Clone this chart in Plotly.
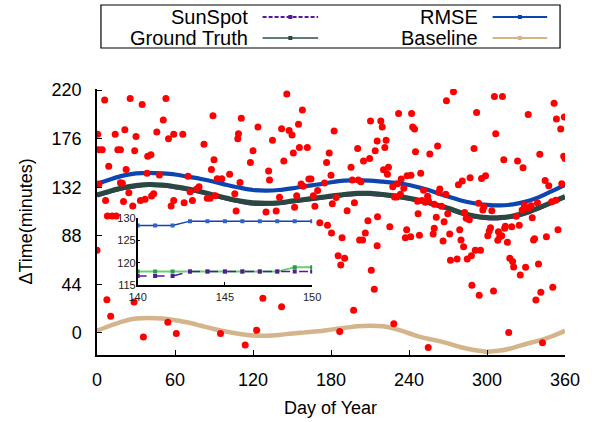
import plotly.graph_objects as go

# ---------------- data ----------------
curve_days = [0, 10, 20, 30, 40, 50, 60, 70, 80, 90, 100, 110, 120, 130, 140, 150, 160, 170, 180,
              190, 200, 210, 220, 230, 240, 250, 260, 270, 280, 290, 300, 310, 320, 330, 340, 350, 360]
rmse = [135, 139, 142.5, 144.5, 145, 144.5, 143.5, 141.5, 139.5, 137, 134, 131.5, 129.5, 129, 129.5,
        131, 133, 134.5, 136.5, 138, 138.5, 138, 137, 136, 134, 131, 127.5, 123.5, 120, 117.5, 116,
        115.5, 116.5, 119, 123, 128.5, 134]
ground_truth = [125, 128.5, 131.5, 133.5, 134.5, 134, 132.5, 130.5, 128, 125, 122, 119.5, 118, 117.5,
                118, 119.5, 121, 122.5, 124, 125.5, 126.5, 126.5, 125.5, 124, 122, 119.5, 116.5, 113,
                109, 106, 104.5, 104.5, 106, 109, 113.5, 118.5, 123.5]
sunspot = [124, 127.5, 130.5, 132.5, 133.5, 133, 131.5, 129.5, 127, 124, 121, 118.5, 116.5, 116.5,
           117, 118.5, 120, 121.5, 123, 124.5, 125.5, 125.5, 124.5, 123, 121, 118.5, 115.5, 112,
           108, 105, 103.5, 103.5, 105, 108, 112.5, 117.5, 122.5]
baseline = [2, 6.5, 10.5, 13, 13.5, 13, 11.5, 9.5, 6.5, 3.5, 1, -1, -2.3, -2.5, -1.8, -0.5, 0.5, 1.5,
            3, 4.5, 6, 6.5, 6, 3.5, -0.3, -4, -6.5, -9.5, -13, -15.5, -17, -16, -13.5, -10, -7, -3, 2]

obs_days = [5.9, 25.5, 34.7, 53, 51, 0.5, 14, 21.4, 30, 46, 59, 66, 55, 1.5, 4, 16, 18, 29, 39, 41.5,
            9, 22.4, 38.5, 48, 1.5, 18, 19.5, 24.5, 6.6, 20.4, 27.5, 33.4, 37, 42, 43.6, 57, 59, 67,
            8, 11.7, 14.8, 0, 58.6, 7.6, 28.5, 10.5, 54.5, 61, 35.7, 70,
            89.2, 111, 123.8, 142, 108.8, 108.3, 82.3, 135, 120, 90, 118, 88, 132, 102, 92.5, 96,
            132.7, 110, 78.5, 76.7, 71.6, 73.4, 84.8, 87, 91, 106, 140.4, 107, 130, 137.8, 127.6,
            142, 95, 122.8, 114, 143.7,
            146, 158, 155, 147.8, 150, 182.4, 210.4, 215.5, 155.7, 161.8, 151, 178.6, 176.6, 200.5,
            214, 205, 209.7, 195.4, 180, 163, 164.6, 157, 158.7, 175, 196.4, 201, 203, 169.7, 153.6,
            166.4, 184, 152, 167.6, 181, 198, 192.4, 171.4, 177.3, 180.4, 188.5, 208.4, 215.8, 206.4,
            202, 204.3, 215.5, 185.5, 190.5, 187.5, 211, 213.3, 197.4, 186.7,
            274.2, 268.8, 232, 242, 218.3, 219.4, 242.8, 244.3, 222.4, 221.4, 262, 245, 256, 224.2,
            220.4, 223.4, 238.5, 241.5, 234, 249, 287, 281, 278, 227.5, 231, 236, 233.4, 228.8, 230.6,
            251.2, 254.3, 250, 246.6, 252.5, 255, 259.4, 265, 263.7, 263, 268.3, 269.8, 282.8, 284,
            286.4, 225.2, 247, 261, 267, 238.2, 259.4, 258.6, 237.2, 241.3, 248, 271.3, 279, 280,
            266.2, 282, 288, 284.8, 277, 271.9, 288.4, 228.3, 254.8,
            305.7, 311.9, 351.6, 292, 331.7, 353.4, 359.5, 356.7, 306.7, 290, 340.6, 312.9, 323.5,
            327.7, 359, 360, 295.8, 298.9, 344.7, 347.5, 357.5, 293.5, 297.6, 296.8, 303.7, 328.7,
            331.5, 334, 327, 338.8, 349.8, 352.9, 322.5, 334.8, 302.7, 301.7, 300.6, 308.8, 308.3,
            309.8, 311.3, 314.1, 313.6, 319, 324.8, 315.7, 336.6, 335.8, 345.7, 354.6, 291, 295,
            317.5, 319.7, 320.5, 329.7, 325.6, 339.6, 294, 305, 341.4, 337.6, 350.6, 316.7, 342.7]
obs_vals = [211, 212.5, 207, 212.5, 193, 180, 180, 184, 178, 182, 180, 180, 176, 166, 166, 166, 166,
            165, 160, 161.5, 151, 148, 144.6, 143, 135, 136, 135.5, 127, 120, 119, 115, 120, 121, 124,
            126, 115, 120, 118, 106, 106, 106, 75, 75, 30, 28, 15, 9.7, -0.6, -3.6, 142,
            196.8, 194.6, 186.5, 185, 180.5, 176, 171, 174.5, 165, 157, 154.5, 148, 146.7, 143.7,
            139.7, 139.7, 138.5, 136.4, 132.5, 130.4, 128, 120, 122, 122, 124.3, 126, 123, 110.5,
            109.5, 110.5, 31.4, 23.8, -0.6, 2.4, -10.9, 155.7,
            216.4, 202, 189, 183.5, 179.3, 183, 192, 174, 168, 168, 163, 163, 154.5, 167, 165, 155.7,
            158, 150, 142.8, 139.4, 139.4, 135, 132.8, 135.8, 138.5, 138.5, 137, 129, 124.3, 124.3,
            122.8, 113.8, 114.7, 117, 118, 110.7, 99.9, 97.5, 90.5, 86.3, 101.7, 105.3, 90.5, 84.2,
            84.2, 79, 70, 67.6, 61.6, 56.8, 39.5, 20.5, 1.2,
            218.5, 210.3, 198.9, 198.9, 192, 186.5, 186.5, 184.7, 174.5, 168, 169.3, 164.2, 162, 150,
            147.9, 143.7, 142.5, 142.8, 139.4, 144.6, 140.6, 137.6, 134.3, 132.5, 135.2, 131, 125.6,
            123.1, 123.1, 129.2, 123.8, 120, 119.2, 118.3, 119.5, 116.5, 114.7, 130.4, 127.4, 125.6,
            108, 109, 103.8, 102.6, 96.2, 108, 104.8, 100.8, 93.5, 94.8, 89.6, 86.3, 87.2, 88.4, 89.6,
            93.5, 84.2, 83.3, 78.1, 70, 67, 67, 65.8, 43.2, 8.4, -13.3,
            214.3, 214.3, 208, 199.8, 198, 193.8, 195.6, 184.7, 180.5, 167.2, 161.8, 156.9, 155.7,
            149.7, 160, 158, 140, 142.4, 138.2, 133.4, 135.2, 117.4, 114.4, 111.4, 110.7, 115.9,
            112.9, 115.3, 111.4, 118, 118.9, 120.1, 105.7, 104.4, 95.3, 92.3, 88.1, 91.7, 83.9,
            87.2, 88.1, 96.6, 94.8, 96.2, 97.5, 82.1, 85.4, 84.2, 87.2, 93.5, 74.9, 74.9, 67.6,
            64.6, 59.8, 59.5, 52.5, 62.5, 34.1, 38, 36.8, 29.9, 41.4, 0.3, -9]

inset_days = [140, 141, 142, 143, 144, 145, 146, 147, 148, 149, 150]
inset_rmse = [128.3, 128.3, 128.3, 129.3, 129.3, 129.3, 129.3, 129.3, 129.3, 129.3, 129.3]
inset_truth = [118, 118, 118, 118, 118, 118, 118, 118, 118, 119, 119]
inset_sunspot = [117, 117, 117, 118, 118, 118, 118, 118, 118, 118, 118]

x_ticks = [0, 60, 120, 180, 240, 300, 360]
y_ticks = [0, 44, 88, 132, 176, 220]
inset_x_ticks = [140, 145, 150]
inset_y_ticks = [115, 120, 125, 130]

legend_names = ["SunSpot", "Ground Truth", "RMSE", "Baseline"]

# ---------------- styling ----------------
C_RMSE = "#0a45b0"
C_GT = "#2a4842"
C_GT_LEG = "#5d7d75"
C_BASE = "#d4b48a"
C_SUN = "#55199a"
C_RED = "#ff0000"
C_INS_GREEN = "#6ccc78"
C_INS_GREEN_M = "#20a040"
FONT = "Liberation Sans, Arial, Helvetica, sans-serif"

W, H = 592, 422
L, R, T, B = 97, 23, 89, 67
PW, PH = W - L - R, H - T - B


def px(xp):
    return (xp - L) / PW


def py(yp):
    return (H - B - yp) / PH


fig = go.Figure()

fig.add_trace(go.Scatter(x=curve_days, y=baseline, mode="lines", line=dict(color=C_BASE, width=4.5, shape="spline"),
                         showlegend=False, hoverinfo="skip"))
fig.add_trace(go.Scatter(x=curve_days, y=rmse, mode="lines", line=dict(color=C_RMSE, width=4.2, shape="spline"),
                         showlegend=False))
fig.add_trace(go.Scatter(x=curve_days, y=sunspot, mode="lines", line=dict(color=C_SUN, width=3, shape="spline"),
                         showlegend=False))
fig.add_trace(go.Scatter(x=curve_days, y=ground_truth, mode="lines", line=dict(color=C_GT, width=5, shape="spline"),
                         showlegend=False))
fig.add_trace(go.Scatter(x=obs_days, y=obs_vals, mode="markers", marker=dict(color=C_RED, size=7, line=dict(width=0)),
                         showlegend=False))

# inset
fig.add_trace(go.Scatter(x=inset_days, y=inset_rmse, xaxis="x2", yaxis="y2", mode="lines+markers",
                         line=dict(color=C_RMSE, width=1.5), marker=dict(symbol="square", size=4, color="#3060c8"),
                         showlegend=False))
fig.add_trace(go.Scatter(x=inset_days, y=inset_truth, xaxis="x2", yaxis="y2", mode="lines+markers",
                         line=dict(color=C_INS_GREEN, width=2), marker=dict(symbol="square", size=4, color=C_INS_GREEN_M),
                         showlegend=False))
fig.add_trace(go.Scatter(x=inset_days, y=inset_sunspot, xaxis="x2", yaxis="y2", mode="lines+markers",
                         line=dict(color=C_SUN, width=1.5, dash="dash"), marker=dict(symbol="square", size=4, color=C_SUN),
                         showlegend=False))

axis_common = dict(showline=True, linecolor="black", linewidth=1.5, ticks="inside", ticklen=5,
                   tickcolor="black", tickwidth=1, showgrid=False, zeroline=False,
                   tickfont=dict(family=FONT, size=18, color="black"))

fig.update_layout(
    width=W, height=H, margin=dict(l=L, r=R, t=T, b=B),
    paper_bgcolor="white", plot_bgcolor="white",
    showlegend=False,
    xaxis=dict(range=[0, 360], tickvals=x_ticks, ticklabelstandoff=8, **axis_common),
    yaxis=dict(range=[-20, 221], tickvals=y_ticks, ticklabelstandoff=10, **axis_common),
    xaxis2=dict(domain=[px(138), px(314)], anchor="y2", range=[140, 150], tickvals=inset_x_ticks,
                showline=True, linecolor="black", linewidth=1.5, ticks="inside", ticklen=3, tickcolor="black",
                showgrid=False, zeroline=False, tickfont=dict(family=FONT, size=11, color="#222"),
                ticklabelstandoff=1),
    yaxis2=dict(domain=[py(285), py(218)], anchor="x2", range=[115, 130], tickvals=inset_y_ticks,
                showline=True, linecolor="black", linewidth=1.5, ticks="inside", ticklen=3, tickcolor="black",
                showgrid=False, zeroline=False, tickfont=dict(family=FONT, size=11, color="#222"),
                ticklabelstandoff=-2),
)

annotations = [
    dict(x=px(332), y=py(408), xref="paper", yref="paper", text="Day of Year", showarrow=False,
         font=dict(family=FONT, size=18, color="black"), xanchor="center", yanchor="middle"),
    dict(x=px(25), y=py(222), xref="paper", yref="paper", text="ΔTime(minutes)", showarrow=False,
         textangle=-90, font=dict(family=FONT, size=18, color="black"), xanchor="center", yanchor="middle"),
]

shapes = [dict(type="rect", xref="paper", yref="paper", x0=px(101), x1=px(564), y0=py(48), y1=py(5),
               line=dict(color="black", width=1.2), fillcolor="white", layer="above")]

legend_pos = [(251, 17, 264, 320, C_SUN, "dash", C_SUN),
              (251, 38, 264, 320, C_GT_LEG, "solid", C_GT),
              (483, 17, 496, 551, C_RMSE, "solid", C_RMSE),
              (483, 38, 496, 551, C_BASE, "solid", C_BASE)]
for name, (tx, ty, lx0, lx1, col, dash, mcol) in zip(legend_names, legend_pos):
    annotations.append(dict(x=px(tx), y=py(ty), xref="paper", yref="paper", text=name, showarrow=False,
                            font=dict(family=FONT, size=20, color="black"), xanchor="right", yanchor="middle"))
    shapes.append(dict(type="line", xref="paper", yref="paper", x0=px(lx0), x1=px(lx1), y0=py(ty), y1=py(ty),
                       line=dict(color=col, width=2, dash="4px,2px" if dash == "dash" else "solid"), layer="above"))
    cx = (lx0 + lx1) / 2
    shapes.append(dict(type="rect", xref="paper", yref="paper", x0=px(cx - 2), x1=px(cx + 2), y0=py(ty + 2),
                       y1=py(ty - 2), line=dict(width=0), fillcolor=mcol, layer="above"))

fig.update_layout(annotations=annotations, shapes=shapes)

fig.write_html("out.html", config={"displayModeBar": False},
               post_script="document.body.style.margin='0px';document.body.style.padding='0px';")
